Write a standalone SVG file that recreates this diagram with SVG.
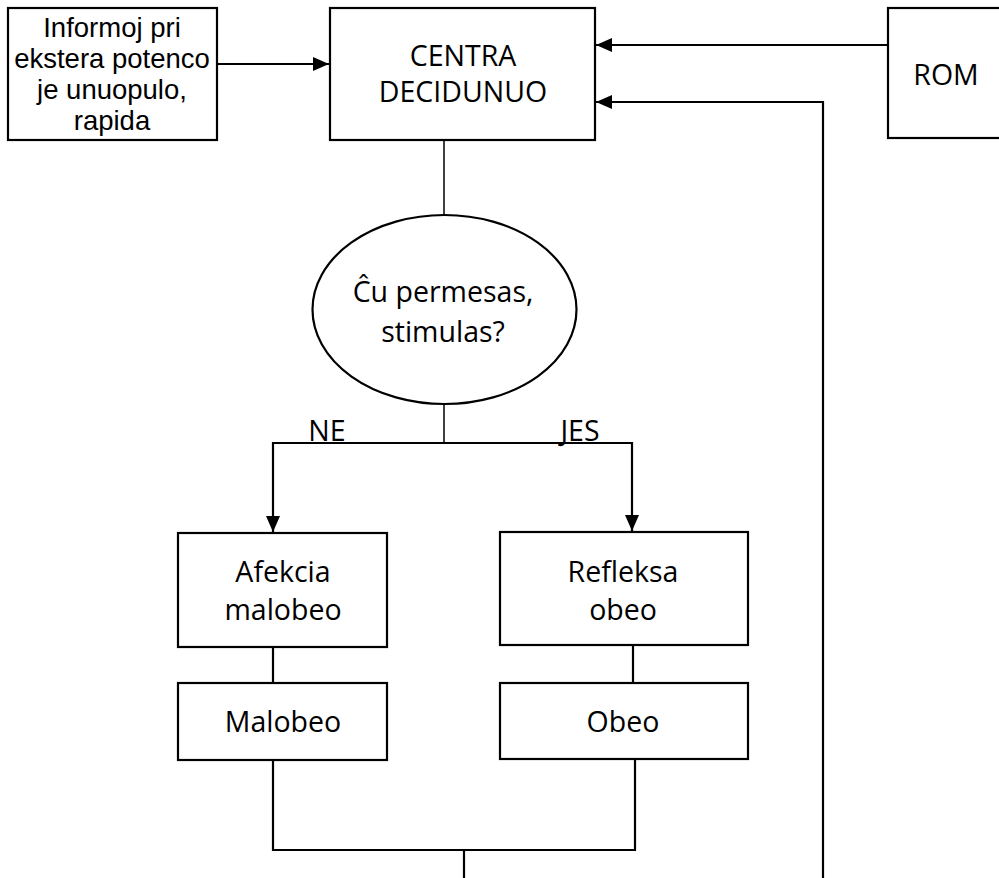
<svg xmlns="http://www.w3.org/2000/svg" width="999" height="878" viewBox="0 0 999 878">
<style>
.box{fill:#fff;stroke:#000;stroke-width:2.2}
.ln{fill:none;stroke:#000;stroke-width:2.2}
.thin{fill:none;stroke:#000;stroke-width:1.5}
text{font-family:"Open Sans","Liberation Sans",sans-serif;font-size:28.5px;fill:#000;text-anchor:middle}
.sm{font-family:"Liberation Sans",Arial,sans-serif;font-size:27.5px}
</style>
<defs>
<marker id="ah" markerUnits="userSpaceOnUse" viewBox="0 0 16 14" refX="16" refY="7" markerWidth="16" markerHeight="14" orient="auto">
<path d="M0,0 L16,7 L0,14 z" fill="#000"/>
</marker>
</defs>
<rect width="999" height="878" fill="#fff"/>
<g id="connectors">
<path class="ln" d="M217,64 H329" marker-end="url(#ah)"/>
<path class="ln" d="M888,45 H596" marker-end="url(#ah)"/>
<path class="ln" d="M823,878 V102 H596" marker-end="url(#ah)"/>
<path class="thin" d="M444,140 V215"/>
<path class="thin" d="M444,404 V443"/>
<path class="ln" d="M444,443 H273 V532" marker-end="url(#ah)"/>
<path class="ln" d="M444,443 H632 V531" marker-end="url(#ah)"/>
<path class="ln" d="M273,647 V683"/>
<path class="ln" d="M633,645 V683"/>
<path class="ln" d="M273,760 V850 H635 V759"/>
<path class="ln" d="M464,850 V878"/>
</g>
<g id="info">
<rect class="box" x="8" y="8" width="209" height="132"/>
<text class="sm" x="112" y="37">Informoj pri</text>
<text class="sm" x="112" y="68">ekstera potenco</text>
<text class="sm" x="112" y="99">je unuopulo,</text>
<text class="sm" x="112" y="130">rapida</text>
</g>
<g id="centra">
<rect class="box" x="330" y="8" width="265" height="132"/>
<text x="463" y="66">CENTRA</text>
<text x="463" y="102">DECIDUNUO</text>
</g>
<g id="rom">
<rect class="box" x="888" y="8" width="120" height="130"/>
<text x="946" y="85">ROM</text>
</g>
<g id="question">
<ellipse class="box" cx="444.5" cy="309.5" rx="132" ry="94.5"/>
<text x="443" y="302">Ĉu permesas,</text>
<text x="443" y="342">stimulas?</text>
</g>
<g id="labels">
<text x="327" y="441">NE</text>
<text x="580" y="441">JES</text>
</g>
<g id="afekcia">
<rect class="box" x="178" y="533" width="209" height="114"/>
<text x="283" y="582">Afekcia</text>
<text x="283" y="620">malobeo</text>
</g>
<g id="malobeo">
<rect class="box" x="178" y="683" width="209" height="77"/>
<text x="283" y="732">Malobeo</text>
</g>
<g id="refleksa">
<rect class="box" x="500" y="532" width="248" height="113"/>
<text x="623" y="582">Refleksa</text>
<text x="623" y="620">obeo</text>
</g>
<g id="obeo">
<rect class="box" x="500" y="683" width="248" height="76"/>
<text x="623" y="732">Obeo</text>
</g>
</svg>
